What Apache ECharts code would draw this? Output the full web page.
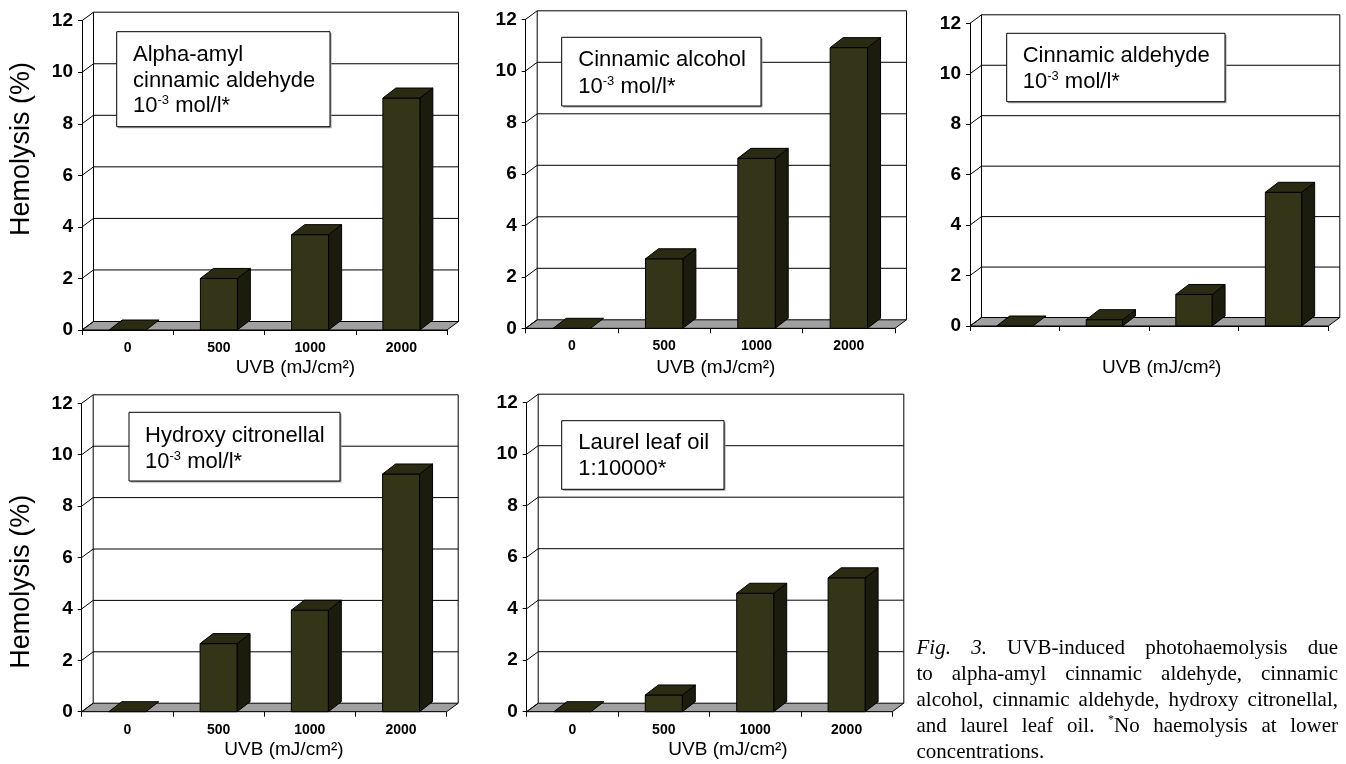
<!DOCTYPE html>
<html>
<head>
<meta charset="utf-8">
<script src="https://cdn.jsdelivr.net/npm/echarts@6/dist/echarts.min.js"></script>
<style>
  html, body { margin: 0; padding: 0; background: #ffffff; }
  #chart { width: 1346px; height: 764px; }
</style>
</head>
<body>
<div id="chart"></div>
<script>
// ---- data ----
const categories = ['0', '500', '1000', '2000'];
const valueTicks = [0, 2, 4, 6, 8, 10, 12];

const alphaAmylCinnamicAldehyde = [0, 2.0, 3.7, 9.0];
const cinnamicAlcohol = [0, 2.7, 6.6, 10.9];
const cinnamicAldehyde = [0, 0.25, 1.25, 5.3];
const hydroxyCitronellal = [0, 2.65, 3.95, 9.25];
const laurelLeafOil = [0, 0.65, 4.6, 5.2];

const xTitle = 'UVB (mJ/cm\u00b2)';
const yTitle = 'Hemolysis (%)';

const captionLines = [
  '_Fig._ _3._ UVB-induced photohaemolysis due',
  'to alpha-amyl cinnamic aldehyde, cinnamic',
  'alcohol, cinnamic aldehyde, hydroxy citronellal,',
  'and laurel leaf oil. ^*^No haemolysis at lower',
  'concentrations.'
];

// ---- style ----
const SANS = '"Liberation Sans", Arial, Helvetica, sans-serif';
const SERIF = '"Liberation Serif", "Times New Roman", serif';
const WALL_DX = 11.5, WALL_DY = -8.5;   // depth of back wall / floor
const BAR_DX = 13, BAR_DY = -10;        // depth of the columns
const BAR_FRONT = '#343419', BAR_SIDE = '#1c1c0e', BAR_TOP = '#2b2b14';
const FLOOR = '#a0a0a0';

// Panel layout (front plane of each 3-D plot)
const panels = [
  { grid: { left: 82, top: 20.7, width: 365, height: 309.3 }, values: alphaAmylCinnamicAldehyde,
    showCats: true, xTitlePos: [295.5, 368], yTitlePos: [22, 149],
    box: { x: 116.7, y: 31.7, w: 213.3, h: 95, tx: 133, lines: [[55, 'Alpha-amyl'], [80.5, 'cinnamic aldehyde'], [106, '10^-3^ mol/l*']] } },
  { grid: { left: 525.7, top: 19.3, width: 369.3, height: 309 }, values: cinnamicAlcohol,
    showCats: true, xTitlePos: [715.8, 368], yTitlePos: null,
    box: { x: 561.7, y: 37.3, w: 199.3, h: 68.7, tx: 578.3, lines: [[60, 'Cinnamic alcohol'], [87.3, '10^-3^ mol/l*']] } },
  { grid: { left: 970, top: 23.3, width: 358.3, height: 302.7 }, values: cinnamicAldehyde,
    showCats: false, xTitlePos: [1161.7, 368], yTitlePos: null,
    box: { x: 1006.7, y: 33.3, w: 218.3, h: 68.4, tx: 1022.7, lines: [[55.5, 'Cinnamic aldehyde'], [82.3, '10^-3^ mol/l*']] } },
  { grid: { left: 81.7, top: 403.3, width: 365, height: 308.4 }, values: hydroxyCitronellal,
    showCats: true, xTitlePos: [284, 750], yTitlePos: [22, 581.7],
    box: { x: 129, y: 412.3, w: 211, h: 68.7, tx: 145, lines: [[436, 'Hydroxy citronellal'], [462, '10^-3^ mol/l*']] } },
  { grid: { left: 526.7, top: 402.7, width: 365.6, height: 309 }, values: laurelLeafOil,
    showCats: true, xTitlePos: [728, 750], yTitlePos: null,
    box: { x: 561.7, y: 420.7, w: 162.3, h: 68.6, tx: 578.3, lines: [[442.7, 'Laurel leaf oil'], [469.3, '1:10000*']] } }
];

// ---- text measuring helper ----
const measureCtx = document.createElement('canvas').getContext('2d');
function textWidth(str, font) { measureCtx.font = font; return measureCtx.measureText(str).width; }

// Split "a^sup^b_ital_" markup into styled pieces
function parseSegments(word) {
  const out = [];
  const re = /(\^[^^]*\^|_[^_]*_|[^^_]+)/g;
  let m;
  while ((m = re.exec(word)) !== null) {
    const s = m[0];
    if (s[0] === '^') out.push({ t: s.slice(1, -1), k: 'sup' });
    else if (s[0] === '_') out.push({ t: s.slice(1, -1), k: 'ital' });
    else out.push({ t: s, k: 'norm' });
  }
  return out;
}

// ---- custom renderers ----
function renderWall(params, api) {
  const cs = params.coordSys;
  const v = api.value(1);
  const y = api.coord([0, v])[1];
  const x0 = cs.x, x1 = cs.x + cs.width;
  const ls = { stroke: '#000', lineWidth: 1, fill: null };
  const children = [];
  if (v === valueTicks[0]) {
    children.push({ type: 'polygon', z2: 0,
      shape: { points: [[x0, y], [x1, y], [x1 + WALL_DX, y + WALL_DY], [x0 + WALL_DX, y + WALL_DY]] },
      style: { fill: FLOOR, stroke: '#000', lineWidth: 1 } });
  } else {
    children.push({ type: 'line', shape: { x1: x0 + WALL_DX, y1: y + WALL_DY, x2: x1 + WALL_DX, y2: y + WALL_DY }, style: ls });
  }
  children.push({ type: 'line', shape: { x1: x0, y1: y, x2: x0 + WALL_DX, y2: y + WALL_DY }, style: ls });
  if (v === valueTicks[valueTicks.length - 1]) {
    const yb = api.coord([0, valueTicks[0]])[1] + WALL_DY;
    children.push({ type: 'line', shape: { x1: x0 + WALL_DX, y1: y + WALL_DY, x2: x0 + WALL_DX, y2: yb }, style: ls });
    children.push({ type: 'line', shape: { x1: x1 + WALL_DX, y1: y + WALL_DY, x2: x1 + WALL_DX, y2: yb }, style: ls });
  }
  return { type: 'group', children };
}

function renderBar(params, api) {
  const i = api.value(0), v = api.value(1);
  const top = api.coord([i, v]);
  const base = api.coord([i, 0]);
  const hw = api.size([1, 0])[0] * 0.2025;
  const l = top[0] - hw, r = top[0] + hw, yt = top[1], yb = base[1];
  const edge = { stroke: '#000', lineWidth: 1, lineJoin: 'round' };
  const children = [];
  if (yb - yt > 0.5) {
    children.push({ type: 'polygon', shape: { points: [[r, yt], [r + BAR_DX, yt + BAR_DY], [r + BAR_DX, yb + BAR_DY], [r, yb]] },
      style: Object.assign({ fill: BAR_SIDE }, edge) });
    children.push({ type: 'rect', shape: { x: l, y: yt, width: r - l, height: yb - yt },
      style: Object.assign({ fill: BAR_FRONT }, edge) });
  }
  children.push({ type: 'polygon', shape: { points: [[l, yt], [l + BAR_DX, yt + BAR_DY], [r + BAR_DX, yt + BAR_DY], [r, yt]] },
    style: Object.assign({ fill: BAR_TOP }, edge) });
  return { type: 'group', children };
}

// ---- build option ----
const grids = [], xAxes = [], yAxes = [], series = [], graphics = [];

panels.forEach((p, k) => {
  grids.push(Object.assign({ containLabel: false }, p.grid));
  xAxes.push({
    type: 'category', gridIndex: k, data: categories, boundaryGap: true,
    axisLine: { show: true, lineStyle: { color: '#000', width: 1 } },
    axisTick: { show: true, length: 5, inside: false, lineStyle: { color: '#000' } },
    axisLabel: { show: p.showCats, margin: 11, color: '#000', fontFamily: SANS, fontWeight: 'bold', fontSize: 14 },
    splitLine: { show: false }
  });
  yAxes.push({
    type: 'value', gridIndex: k, min: 0, max: 12, interval: 2,
    axisLine: { show: true, lineStyle: { color: '#000', width: 1 } },
    axisTick: { show: true, length: 4, lineStyle: { color: '#000' } },
    axisLabel: { margin: 9, color: '#000', fontFamily: SANS, fontWeight: 'bold', fontSize: 19 },
    splitLine: { show: false }
  });
  series.push({
    type: 'custom', name: 'wall' + k, xAxisIndex: k, yAxisIndex: k, clip: false, silent: true, z: 1,
    renderItem: renderWall, data: valueTicks.map(v => [0, v]), encode: { x: 0, y: 1 }
  });
  series.push({
    type: 'custom', name: 'bars' + k, xAxisIndex: k, yAxisIndex: k, clip: false, z: 3,
    renderItem: renderBar, data: p.values.map((v, i) => [i, v]), encode: { x: 0, y: 1 }
  });

  // axis titles
  graphics.push({ type: 'text', x: p.xTitlePos[0], y: p.xTitlePos[1], z: 10,
    style: { text: xTitle, fill: '#000', font: '19px ' + SANS, align: 'center', verticalAlign: 'middle' } });
  if (p.yTitlePos) {
    graphics.push({ type: 'text', x: p.yTitlePos[0], y: p.yTitlePos[1], rotation: Math.PI / 2, z: 10,
      style: { text: yTitle, fill: '#000', font: '27px ' + SANS, align: 'center', verticalAlign: 'middle' } });
  }

  // legend box
  const b = p.box;
  graphics.push({ type: 'rect', z: 10, shape: { x: b.x + 1.5, y: b.y + 1.5, width: b.w, height: b.h },
    style: { fill: '#9a9a9a' } });
  graphics.push({ type: 'rect', z: 11, shape: { x: b.x, y: b.y, width: b.w, height: b.h },
    style: { fill: '#fff', stroke: '#000', lineWidth: 1 } });
  b.lines.forEach(([cy, str]) => {
    let x = b.tx;
    parseSegments(str).forEach(seg => {
      const sup = seg.k === 'sup';
      const font = (sup ? '13px ' : '22px ') + SANS;
      graphics.push({ type: 'text', z: 12, x: x, y: sup ? cy - 6 : cy,
        style: { text: seg.t, fill: '#000', font: font, align: 'left', verticalAlign: 'middle' } });
      x += textWidth(seg.t, font);
    });
  });
});

// caption, justified between two margins
const CAP_LEFT = 916.5, CAP_RIGHT = 1338, CAP_Y0 = 648, CAP_LH = 26;
const capFonts = { norm: '21px ' + SERIF, ital: 'italic 21px ' + SERIF, sup: '12px ' + SERIF };
captionLines.forEach((line, li) => {
  const words = line.split(' ').map(parseSegments);
  const widths = words.map(ws => ws.reduce((s, seg) => s + textWidth(seg.t, capFonts[seg.k]), 0));
  const total = widths.reduce((a, b) => a + b, 0);
  const last = li === captionLines.length - 1;
  const gap = last ? textWidth(' ', capFonts.norm) : (CAP_RIGHT - CAP_LEFT - total) / (words.length - 1);
  let x = CAP_LEFT;
  const cy = CAP_Y0 + li * CAP_LH;
  words.forEach((ws, wi) => {
    let wx = x;
    ws.forEach(seg => {
      graphics.push({ type: 'text', z: 12, x: wx, y: seg.k === 'sup' ? cy - 6 : cy,
        style: { text: seg.t, fill: '#000', font: capFonts[seg.k], align: 'left', verticalAlign: 'middle' } });
      wx += textWidth(seg.t, capFonts[seg.k]);
    });
    x += widths[wi] + gap;
  });
});

const chart = echarts.init(document.getElementById('chart'), null, { renderer: 'canvas' });
chart.setOption({
  backgroundColor: '#ffffff',
  animation: false,
  grid: grids,
  xAxis: xAxes,
  yAxis: yAxes,
  series: series,
  graphic: { elements: graphics }
});
</script>
</body>
</html>
